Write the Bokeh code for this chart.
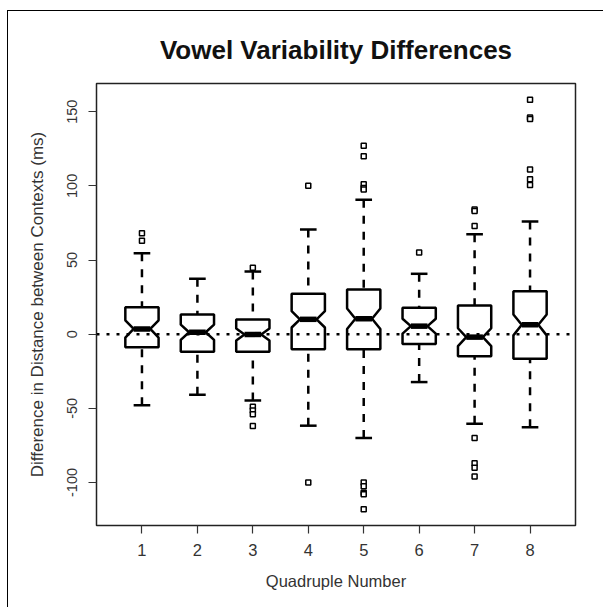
import math
from bokeh.plotting import figure
from bokeh.models import Range1d, FixedTicker, Span
from bokeh.embed import file_html
from bokeh.resources import INLINE

# ---- data ----
quadruple = [1, 2, 3, 4, 5, 6, 7, 8]
lower_whisker = [-48.0, -40.8, -44.7, -61.7, -70.0, -32.3, -60.4, -62.7]
q1 = [-8.8, -11.8, -11.8, -10.1, -10.1, -6.7, -14.9, -16.6]
notch_lo = [-2.3, -3.8, -4.2, 4.5, 3.5, 0.4, -8.0, -0.8]
median = [3.5, 1.3, -0.2, 10.0, 10.4, 5.4, -2.0, 6.3]
notch_hi = [9.3, 6.4, 3.8, 15.5, 17.3, 10.4, 4.0, 13.3]
q3 = [18.2, 13.3, 9.9, 27.2, 30.1, 17.8, 19.3, 29.0]
upper_whisker = [54.6, 37.3, 42.2, 70.5, 90.6, 40.7, 67.4, 76.0]

outlier_group = [1, 1, 3, 3, 3, 3, 3, 4, 4,
                 5, 5, 5, 5, 5, 5, 5, 5, 5, 5,
                 6, 7, 7, 7, 7, 7, 7, 7,
                 8, 8, 8, 8, 8, 8]
outlier_value = [68, 63, 44.7, -49, -51.5, -54, -62, 100, -100,
                 127, 120, 101, 98.5, -100, -102.5, -107, -108, -118, 97.5,
                 55, 84, 83, 73, -70, -87, -90, -96,
                 158, 146, 145, 111, 104.5, 100.5]

y_ticks = [-100, -50, 0, 50, 100, 150]
y_tick_labels = ["-100", "-50", "0", "50", "100", "150"]

box_half = 0.3
notch_half = 0.15

xs, ys = [], []
for i, x in enumerate(quadruple):
    xs.append([x - box_half, x + box_half, x + box_half, x + notch_half, x + box_half,
               x + box_half, x - box_half, x - box_half, x - notch_half, x - box_half])
    ys.append([q3[i], q3[i], notch_hi[i], median[i], notch_lo[i],
               q1[i], q1[i], notch_lo[i], median[i], notch_hi[i]])

p = figure(width=596, height=597,
           x_range=Range1d(0.18, 8.82), y_range=Range1d(-129, 169),
           output_backend="svg", toolbar_location=None,
           min_border_left=88, min_border_right=29,
           min_border_top=72, min_border_bottom=83,
           title="Vowel Variability Differences")
p.styles = {"border-top": "1px solid black", "border-left": "1px solid black",
            "margin-top": "10px", "margin-left": "7px"}

p.background_fill_color = "white"
p.border_fill_color = "white"
p.outline_line_color = "#222222"
p.outline_line_width = 1.5
p.xgrid.visible = False
p.ygrid.visible = False

p.title.text_font = "Liberation Sans"
p.title.text_font_size = "26px"
p.title.text_font_style = "bold"
p.title.text_color = "#111111"
p.title.align = "center"
p.title.standoff = 37

# whiskers (dashed), drawn from the whisker end toward the box
p.segment(x0=quadruple, y0=upper_whisker, x1=quadruple, y1=q3,
          line_color="black", line_width=2.5, line_dash="8 8")
p.segment(x0=quadruple, y0=lower_whisker, x1=quadruple, y1=q1,
          line_color="black", line_width=2.5, line_dash="8 8")
# staples
p.segment(x0=[x - notch_half for x in quadruple], y0=upper_whisker,
          x1=[x + notch_half for x in quadruple], y1=upper_whisker,
          line_color="black", line_width=2.5)
p.segment(x0=[x - notch_half for x in quadruple], y0=lower_whisker,
          x1=[x + notch_half for x in quadruple], y1=lower_whisker,
          line_color="black", line_width=2.5)
# notched boxes
p.patches(xs, ys, fill_color="white", line_color="black", line_width=2.5)
# medians
p.segment(x0=[x - notch_half for x in quadruple], y0=median,
          x1=[x + notch_half for x in quadruple], y1=median,
          line_color="black", line_width=5.5)
# outliers
p.scatter(outlier_group, outlier_value, marker="square", size=5,
          fill_color="white", line_color="black", line_width=1.5)

zero = Span(location=0, dimension="width", line_color="black",
            line_width=2.5, line_dash="3 7")
p.add_layout(zero)

for ax in (p.xaxis[0], p.yaxis[0]):
    ax.axis_line_color = None
    ax.major_tick_out = 8
    ax.major_tick_in = 0
    ax.major_tick_line_color = "#333333"
    ax.major_tick_line_width = 1.2
    ax.minor_tick_line_color = None
    ax.major_label_text_font = "Liberation Sans"
    ax.major_label_text_color = "#333333"
    ax.axis_label_text_font = "Liberation Sans"
    ax.axis_label_text_font_style = "normal"
    ax.axis_label_text_color = "#333333"

p.xaxis[0].ticker = FixedTicker(ticks=quadruple)
p.xaxis[0].major_label_text_font_size = "16.5px"
p.xaxis[0].axis_label_text_font_size = "16.5px"
p.yaxis[0].ticker = FixedTicker(ticks=y_ticks)
p.yaxis[0].major_label_overrides = dict(zip(y_ticks, y_tick_labels))
p.yaxis[0].major_label_text_font_size = "14.5px"
p.yaxis[0].major_label_orientation = "vertical"
p.yaxis[0].axis_label_text_font_size = "17px"
p.xaxis[0].axis_label = "Quadruple Number"
p.yaxis[0].axis_label = "Difference in Distance between Contexts (ms)"
p.xaxis[0].major_label_standoff = 10
p.xaxis[0].axis_label_standoff = 13
p.yaxis[0].major_label_standoff = 11
p.yaxis[0].axis_label_standoff = 18

open("out.html", "w").write(file_html(p, INLINE))
